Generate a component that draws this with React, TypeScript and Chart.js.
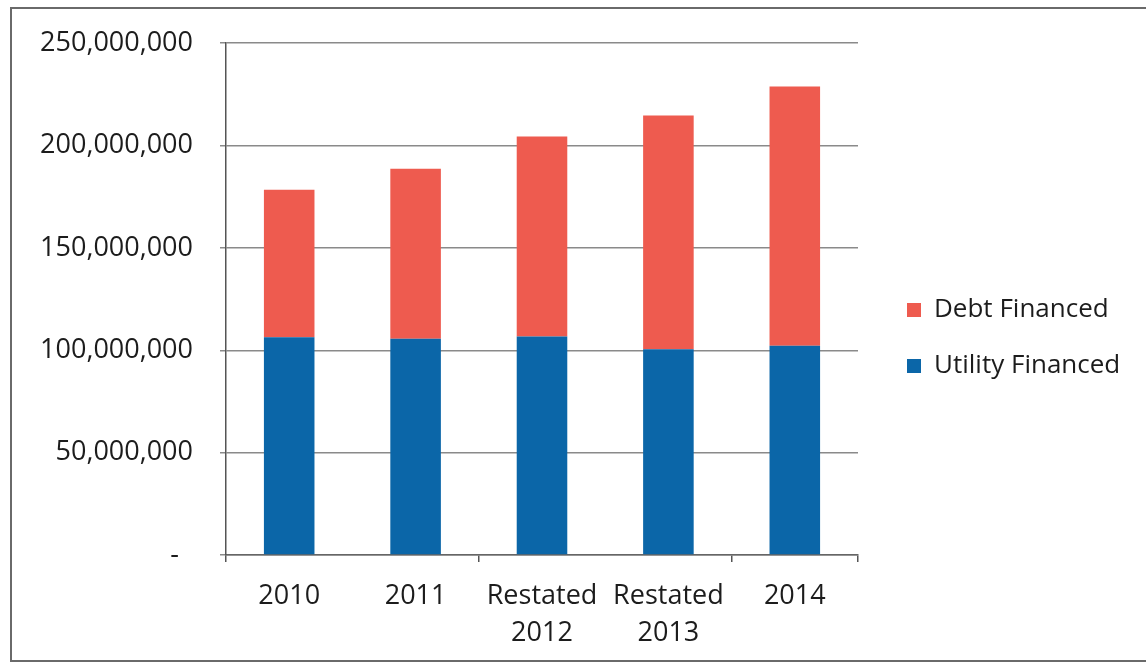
import React, { useEffect, useRef } from "react";
import { Chart, registerables } from "chart.js";

Chart.register(...registerables);

const categories: (string | string[])[] = ["2010", "2011", ["Restated", "2012"], ["Restated", "2013"], "2014"];
const utilityFinanced = [106.4e6, 105.6e6, 106.7e6, 100.5e6, 102.2e6];
const debtFinanced = [72.0e6, 83.1e6, 97.7e6, 114.2e6, 126.7e6];
const yMin = 0;
const yMax = 250e6;
const yStep = 50e6;

const FONT = "'Open Sans', 'DejaVu Sans', sans-serif";
const TEXT = "#1c1c1c";
const W = 1146;
const H = 665;
const AREA_LEFT = 226;
const AREA_RIGHT = 858;
const AREA_TOP = 43;
const AREA_BOTTOM = 555;
const X_AXIS_H = 105;
const LEGEND_BOX_X = 907;
const LEGEND_CENTER_Y = 338;
const LEGEND_PAD = 30;

const legendShift = {
  id: "legendShift",
  afterLayout(chart: any) {
    const lg = chart.legend;
    if (!lg) return;
    const dx = LEGEND_BOX_X - LEGEND_PAD - lg.left;
    lg.left += dx;
    lg.right += dx;
    const dy = LEGEND_CENTER_Y - (lg.top + lg.bottom) / 2;
    lg.top += dy;
    lg.bottom += dy;
  },
};

export default function App() {
  const ref = useRef<HTMLCanvasElement | null>(null);

  useEffect(() => {
    document.body.style.margin = "0";
    const canvas = ref.current;
    if (!canvas) return;
    const chart = new Chart(canvas, {
      type: "bar",
      data: {
        labels: categories as any,
        datasets: [
          {
            label: "Utility Financed",
            data: utilityFinanced,
            backgroundColor: "#0B66A8",
            borderWidth: 0,
            barPercentage: 0.4,
            categoryPercentage: 1,
          },
          {
            label: "Debt Financed",
            data: debtFinanced,
            backgroundColor: "#EE5B4F",
            borderWidth: 0,
            barPercentage: 0.4,
            categoryPercentage: 1,
          },
        ],
      },
      options: {
        animation: false,
        responsive: true,
        maintainAspectRatio: false,
        layout: { padding: { top: AREA_TOP, right: 0, bottom: H - AREA_BOTTOM - X_AXIS_H, left: 0 } },
        plugins: {
          title: { display: false },
          tooltip: { enabled: false },
          legend: {
            position: "right",
            reverse: true,
            labels: {
              boxWidth: 14,
              boxHeight: 14,
              padding: LEGEND_PAD,
              color: TEXT,
              font: { family: FONT, size: 26 },
            },
          },
        },
        scales: {
          x: {
            stacked: true,
            afterFit: (s: any) => {
              s.height = X_AXIS_H;
            },
            grid: {
              display: true,
              drawOnChartArea: false,
              drawTicks: true,
              tickLength: 7,
              offset: true,
              lineWidth: 1.5,
              color: (ctx: any) => (ctx.index === 1 || ctx.index === 3 ? "rgba(0,0,0,0)" : "#555"),
            },
            border: { display: true, color: "#666", width: 1.5 },
            ticks: {
              color: TEXT,
              font: { family: FONT, size: 27, lineHeight: 1.37 },
              padding: 16,
              maxRotation: 0,
              autoSkip: false,
            },
          },
          y: {
            stacked: true,
            min: yMin,
            max: yMax,
            afterFit: (s: any) => {
              s.width = AREA_LEFT;
            },
            grid: {
              color: "#8a8a8a",
              lineWidth: 1.5,
              tickLength: 6,
              drawTicks: true,
            },
            border: { display: true, color: "#555", width: 1.5 },
            ticks: {
              stepSize: yStep,
              color: TEXT,
              padding: 27,
              font: { family: FONT, size: 27 },
              callback: (v: any) => (Number(v) === 0 ? "-  " : Number(v).toLocaleString("en-US")),
            },
          },
        },
      },
      plugins: [legendShift],
    } as any);

    const lw = chart.legend ? (chart.legend as any).width : 200;
    (chart.options as any).layout.padding.right = Math.max(0, W - AREA_RIGHT - lw);
    chart.update();

    return () => chart.destroy();
  }, []);

  return (
    <div style={{ position: "absolute", left: 0, top: 0, width: W, height: H, background: "#fff", overflow: "hidden" }}>
      <div
        style={{
          position: "absolute",
          left: 10,
          top: 7,
          width: 1200,
          height: 655,
          border: "2px solid #6a6a6a",
          boxSizing: "border-box",
        }}
      />
      <canvas ref={ref} style={{ position: "absolute", left: 0, top: 0, width: W, height: H }} />
    </div>
  );
}
